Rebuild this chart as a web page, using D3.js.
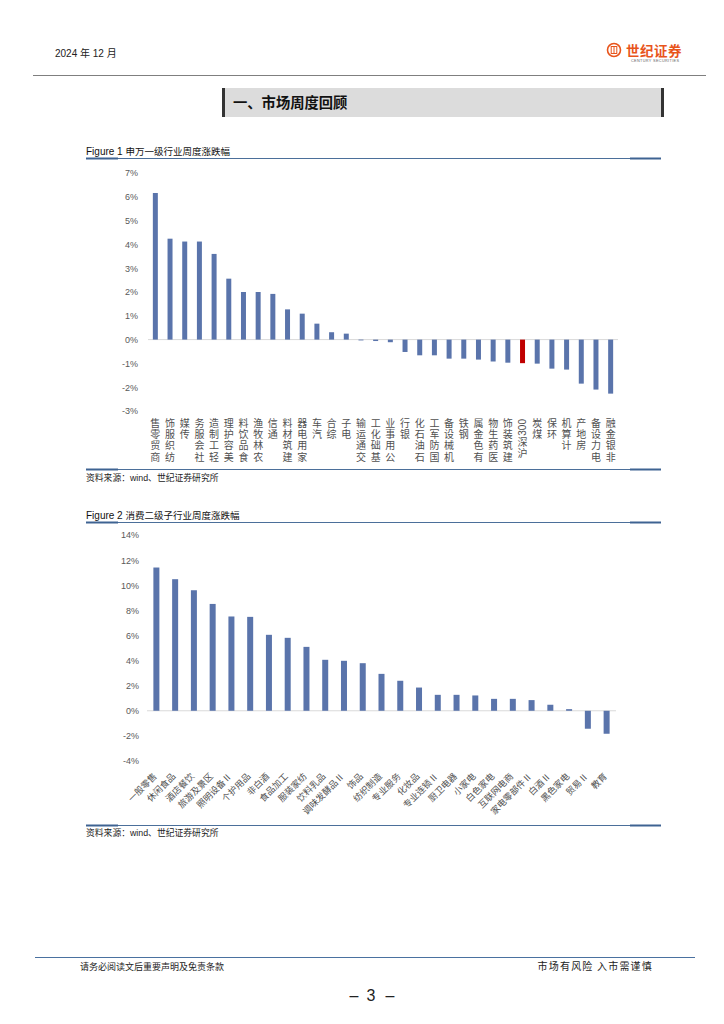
<!DOCTYPE html>
<html>
<head>
<meta charset="utf-8">
<script src="https://cdn.jsdelivr.net/npm/d3@7"></script>
<style>
  body { margin: 0; background: #fff; }
  svg { display: block; }
</style>
</head>
<body>
<script>
// Figure 1: SW level-1 industries, weekly change (%)
const sw1Names = ["商贸零售","纺织服饰","传媒","社会服务","轻工制造","美容护理","食品饮料","农林牧渔","通信","建筑材料","家用电器","汽车","综合","电子","交通运输","基础化工","公用事业","银行","石油石化","国防军工","机械设备","钢铁","有色金属","医药生物","建筑装饰","沪深300","煤炭","环保","计算机","房地产","电力设备","非银金融"];
const sw1Values = [6.16,4.24,4.12,4.12,3.60,2.56,2.00,2.00,1.92,1.27,1.09,0.67,0.31,0.25,-0.02,-0.06,-0.11,-0.52,-0.66,-0.66,-0.80,-0.80,-0.84,-0.92,-0.97,-0.99,-1.01,-1.22,-1.26,-1.85,-2.10,-2.27];
const sw1Ticks = [7,6,5,4,3,2,1,0,-1,-2,-3];
const highlightName = "沪深300";

// Figure 2: consumer level-2 sub-industries, weekly change (%)
const consNames = ["一般零售","休闲食品","酒店餐饮","旅游及景区","照明设备Ⅱ","个护用品","非白酒","食品加工","服装家纺","饮料乳品","调味发酵品Ⅱ","饰品","纺织制造","专业服务","化妆品","专业连锁Ⅱ","厨卫电器","小家电","白色家电","互联网电商","家电零部件Ⅱ","白酒Ⅱ","黑色家电","贸易Ⅱ","教育"];
const consValues = [11.41,10.48,9.60,8.51,7.51,7.48,6.05,5.81,5.09,4.06,3.98,3.79,2.94,2.39,1.85,1.27,1.27,1.22,0.95,0.95,0.85,0.48,0.13,-1.43,-1.83];
const consTicks = [14,12,10,8,6,4,2,0,-2,-4];

const W = 724, H = 1024;
const barColor = "#5a74ab", redColor = "#c00000";
const cjk = "'Noto Sans CJK SC', sans-serif";
const latin = "'Liberation Sans', Arial, sans-serif";
const lineBlue = "#4b6f9a";
const labelColor = "#505050";

const svg = d3.select("body").append("svg")
  .attr("width", W).attr("height", H);

// ---------- page header ----------
svg.append("text").attr("x", 55).attr("y", 57)
  .attr("font-size", 10).attr("fill", "#222")
  .selectAll("tspan")
  .data([["2024 ", latin], ["年", cjk], [" 12 ", latin], ["月", cjk]])
  .join("tspan").attr("font-family", d => d[1]).text(d => d[0]);

// logo
const logo = svg.append("g").attr("transform", "translate(614,50)");
logo.append("circle").attr("r", 6.5).attr("fill", "none").attr("stroke", "#e8541b").attr("stroke-width", 1.6);
logo.append("rect").attr("x", -2.8).attr("y", -3.5).attr("width", 5.6).attr("height", 7).attr("fill", "none").attr("stroke", "#e8541b").attr("stroke-width", 1);
logo.append("line").attr("x1", 0).attr("x2", 0).attr("y1", -3.5).attr("y2", 3.5).attr("stroke", "#e8541b").attr("stroke-width", 1);
svg.append("text").attr("x", 626).attr("y", 55.5)
  .attr("font-family", cjk).attr("font-weight", 700).attr("font-size", 13.5)
  .attr("fill", "#e8541b").attr("letter-spacing", 0.5).text("世纪证券");
svg.append("text").attr("x", 631).attr("y", 62)
  .attr("font-family", latin).attr("font-size", 3.8)
  .attr("fill", "#666").attr("letter-spacing", 0.35).text("CENTURY SECURITIES");

svg.append("line").attr("x1", 33).attr("x2", 706).attr("y1", 75.5).attr("y2", 75.5)
  .attr("stroke", "#7f7f7f").attr("stroke-width", 1);

// section banner
svg.append("rect").attr("x", 222).attr("y", 88).attr("width", 442).attr("height", 29).attr("fill", "#dcdcdc");
svg.append("rect").attr("x", 222).attr("y", 88).attr("width", 3).attr("height", 29).attr("fill", "#333");
svg.append("rect").attr("x", 661).attr("y", 88).attr("width", 3).attr("height", 29).attr("fill", "#333");
svg.append("text").attr("x", 233).attr("y", 107.5)
  .attr("font-family", cjk).attr("font-weight", 700).attr("font-size", 14.3)
  .attr("fill", "#111").text("一、市场周度回顾");

// ---------- helpers ----------
function rule(y) {
  svg.append("line").attr("x1", 86).attr("x2", 661).attr("y1", y).attr("y2", y)
    .attr("stroke", lineBlue).attr("stroke-width", 1);
  [[86, 118], [630, 661]].forEach(s => {
    svg.append("line").attr("x1", s[0]).attr("x2", s[1]).attr("y1", y).attr("y2", y)
      .attr("stroke", "#3e6392").attr("stroke-width", 2);
  });
}
function figTitle(y, num, txt) {
  const t = svg.append("text").attr("x", 86).attr("y", y).attr("font-size", 10).attr("fill", "#111");
  t.append("tspan").attr("font-family", latin).text("Figure " + num + "  ");
  t.append("tspan").attr("font-family", cjk).attr("font-size", 9.5).text(txt);
}
function source(y) {
  const t = svg.append("text").attr("x", 86).attr("y", y).attr("font-size", 8.8).attr("fill", "#222");
  t.append("tspan").attr("font-family", cjk).text("资料来源：");
  t.append("tspan").attr("font-family", latin).text("wind");
  t.append("tspan").attr("font-family", cjk).text("、世纪证券研究所");
}
function yAxis(scale, ticks, x) {
  const g = svg.append("g").attr("transform", `translate(${x},0)`)
    .call(d3.axisLeft(scale).tickValues(ticks).tickSize(0).tickPadding(10)
      .tickFormat(d => (d < 0 ? "-" + Math.abs(d) : d) + "%"));
  g.select(".domain").remove();
  g.selectAll("text").attr("font-family", latin).attr("font-size", 9).attr("fill", "#595959");
}

// ---------- Figure 1 ----------
figTitle(155, 1, "申万一级行业周度涨跌幅");
rule(158.5);

const x1 = d3.scaleBand().domain(sw1Names).range([148, 618]).paddingInner(0.66).paddingOuter(0.33);
const y1 = d3.scaleLinear().domain([-3, 7]).range([411, 173]);
yAxis(y1, sw1Ticks, 148);

svg.append("line").attr("x1", 148).attr("x2", 618).attr("y1", y1(0)).attr("y2", y1(0))
  .attr("stroke", "#d9d9d9").attr("stroke-width", 1);

svg.append("g").selectAll("rect")
  .data(sw1Names.map((n, i) => ({ n, v: sw1Values[i] })))
  .join("rect")
  .attr("x", d => x1(d.n))
  .attr("width", x1.bandwidth())
  .attr("y", d => y1(Math.max(0, d.v)))
  .attr("height", d => Math.max(0.8, Math.abs(y1(d.v) - y1(0))))
  .attr("fill", d => d.n === highlightName ? redColor : barColor);

// vertical labels, read bottom-to-top: last character sits at the top,
// so the reversed string is set top-down in vertical writing mode
const pitch = 11.3;
sw1Names.forEach(name => {
  const runs = [];
  name.match(/[0-9A-Za-z]+|./g).reverse().forEach(tk => {
    const isLatin = /^[0-9A-Za-z]+$/.test(tk);
    const last = runs[runs.length - 1];
    if (!isLatin && last && !last.latin) last.text += tk;
    else runs.push({ text: tk, latin: isLatin });
  });
  const cx = x1(name) + x1.bandwidth() / 2;
  let yy = 418;
  runs.forEach(r => {
    if (r.latin) {
      const len = r.text.length * 5.6 + 2;
      svg.append("text").attr("transform", `translate(${cx},${yy + len / 2}) rotate(-90)`)
        .attr("text-anchor", "middle").attr("dominant-baseline", "central")
        .attr("font-family", latin).attr("font-size", 10).attr("fill", labelColor)
        .text(r.text);
      yy += len;
    } else {
      svg.append("text").attr("x", cx).attr("y", yy)
        .style("writing-mode", "vertical-rl")
        .attr("text-anchor", "start")
        .attr("letter-spacing", pitch - 10)
        .attr("font-family", cjk).attr("font-size", 10).attr("fill", labelColor)
        .text(r.text);
      yy += r.text.length * pitch;
    }
  });
});

rule(469.5);
source(481);

// ---------- Figure 2 ----------
figTitle(519, 2, "消费二级子行业周度涨跌幅");
rule(522.5);

const x2 = d3.scaleBand().domain(consNames).range([147, 616]).paddingInner(0.68).paddingOuter(0.34);
const y2 = d3.scaleLinear().domain([-4, 14]).range([761, 535]);
yAxis(y2, consTicks, 149);

svg.append("line").attr("x1", 147).attr("x2", 616).attr("y1", y2(0)).attr("y2", y2(0))
  .attr("stroke", "#d9d9d9").attr("stroke-width", 1);

svg.append("g").selectAll("rect")
  .data(consNames.map((n, i) => ({ n, v: consValues[i] })))
  .join("rect")
  .attr("x", d => x2(d.n))
  .attr("width", x2.bandwidth())
  .attr("y", d => y2(Math.max(0, d.v)))
  .attr("height", d => Math.max(0.8, Math.abs(y2(d.v) - y2(0))))
  .attr("fill", barColor);

svg.append("g").selectAll("text")
  .data(consNames)
  .join("text")
  .attr("transform", d => `translate(${x2(d) + x2.bandwidth() / 2 + 1},777) rotate(-45)`)
  .attr("text-anchor", "end")
  .attr("font-family", cjk).attr("font-size", 9).attr("fill", labelColor)
  .text(d => d);

rule(825.5);
source(836);

// ---------- footer ----------
svg.append("line").attr("x1", 35).attr("x2", 695).attr("y1", 957.5).attr("y2", 957.5)
  .attr("stroke", "#4a71a0").attr("stroke-width", 1.2);
svg.append("text").attr("x", 80).attr("y", 970)
  .attr("font-family", cjk).attr("font-size", 9).attr("fill", "#222")
  .text("请务必阅读文后重要声明及免责条款");
svg.append("text").attr("x", 653).attr("y", 970).attr("text-anchor", "end")
  .attr("font-family", cjk).attr("font-size", 10).attr("letter-spacing", 1.2).attr("fill", "#222")
  .text("市场有风险 入市需谨慎");
svg.append("g").attr("font-family", latin).attr("font-size", 16).attr("fill", "#222")
  .attr("text-anchor", "middle")
  .selectAll("text").data([[354, "–"], [371, "3"], [390, "–"]])
  .join("text").attr("x", d => d[0]).attr("y", 1001).text(d => d[1]);
</script>
</body>
</html>
